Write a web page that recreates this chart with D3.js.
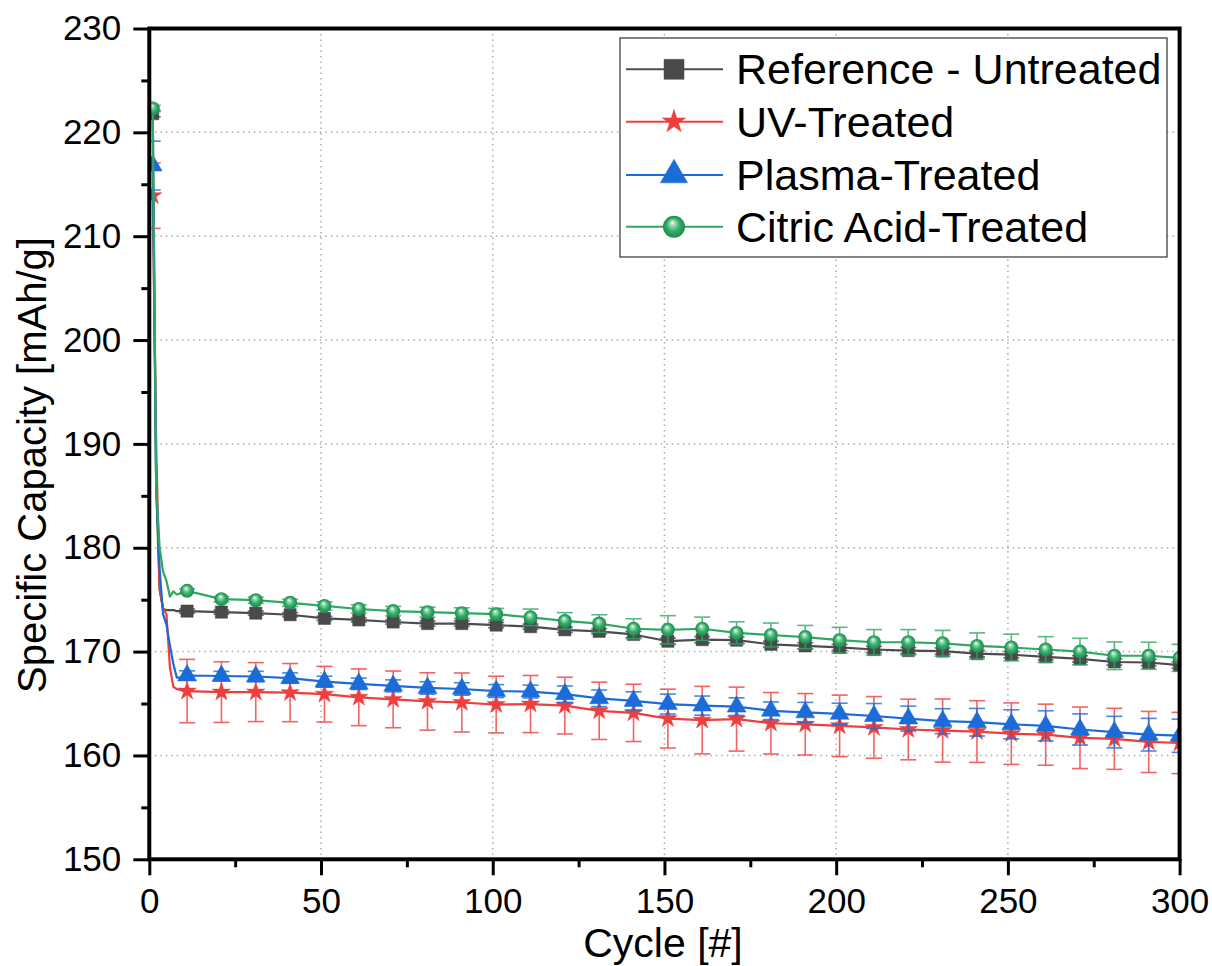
<!DOCTYPE html>
<html>
<head>
<meta charset="utf-8">
<style>
  body { margin: 0; background: #fff; }
  svg text { font-family: Arial, "Liberation Sans", sans-serif; fill: #000; }
</style>
</head>
<body>
<svg id="chart" width="1212" height="966"></svg>
<script src="https://cdnjs.cloudflare.com/ajax/libs/d3/7.8.5/d3.min.js"></script>
<script>
// cycles where markers / error bars sit
var markerCycles = [1, 11, 21, 31, 41, 51, 61, 71, 81, 91, 101, 111, 121, 131, 141, 151, 161, 171, 181, 191, 201, 211, 221, 231, 241, 251, 261, 271, 281, 291, 300];
// first cycles (line only, no markers)
var earlyCycles = [2, 3, 4, 5, 6, 7, 8, 9, 10];

var seriesNames = ["Reference - Untreated", "UV-Treated", "Plasma-Treated", "Citric Acid-Treated"];

var refValues = [221.8, 173.9, 173.8, 173.7, 173.55, 173.2, 173.05, 172.85, 172.7, 172.7, 172.55, 172.4, 172.1, 171.95, 171.65, 171.0, 171.15, 171.1, 170.7, 170.55, 170.4, 170.2, 170.1, 170.05, 169.8, 169.7, 169.5, 169.3, 169.0, 168.95, 168.7];
var uvValues = [213.9, 166.2, 166.1, 166.1, 166.05, 165.9, 165.6, 165.4, 165.2, 165.1, 164.9, 164.95, 164.8, 164.3, 164.1, 163.55, 163.4, 163.5, 163.1, 163.0, 162.85, 162.7, 162.5, 162.4, 162.3, 162.1, 162.0, 161.7, 161.6, 161.3, 161.2];
var plasmaValues = [216.8, 167.7, 167.65, 167.6, 167.45, 167.1, 166.9, 166.7, 166.5, 166.4, 166.2, 166.15, 165.9, 165.5, 165.25, 164.95, 164.8, 164.7, 164.3, 164.15, 164.0, 163.8, 163.55, 163.3, 163.2, 163.0, 162.85, 162.5, 162.25, 162.0, 161.9];
var citricValues = [222.3, 175.85, 175.05, 174.95, 174.7, 174.4, 174.1, 173.9, 173.8, 173.7, 173.6, 173.3, 172.95, 172.7, 172.2, 172.1, 172.2, 171.8, 171.6, 171.4, 171.1, 170.9, 170.9, 170.8, 170.55, 170.4, 170.2, 170.0, 169.6, 169.6, 169.4];

var refEarly = [186, 176, 174.1, 174.0, 174.0, 174.0, 173.9, 173.9, 173.9];
var uvEarly = [190, 176, 174.2, 173.6, 168.5, 166.6, 166.4, 166.3, 166.2];
var plasmaEarly = [186, 178, 173.6, 172.6, 170.6, 168.8, 167.5, 167.5, 167.6];
var citricEarly = [186, 180, 177.7, 176.8, 175.3, 175.8, 175.5, 175.6, 175.8];

// error bar half widths at the marker cycles
var refErr = [0.3, 0.2, 0.2, 0.2, 0.2, 0.2, 0.2, 0.2, 0.25, 0.25, 0.25, 0.25, 0.25, 0.25, 0.3, 0.3, 0.3, 0.3, 0.3, 0.3, 0.3, 0.3, 0.3, 0.3, 0.3, 0.3, 0.3, 0.3, 0.3, 0.3, 0.3];
var uvErr = [3.15, 3.05, 2.92, 2.84, 2.8, 2.68, 2.73, 2.73, 2.76, 2.84, 2.73, 2.75, 2.73, 2.76, 2.76, 2.83, 3.25, 3.08, 2.96, 2.96, 2.96, 2.97, 2.92, 3.04, 2.97, 2.96, 2.94, 2.96, 2.94, 2.94, 2.95];
var plasmaErr = [2.35, 0.45, 0.45, 0.5, 0.5, 0.53, 0.55, 0.58, 0.6, 0.6, 0.62, 0.62, 0.79, 0.8, 0.88, 0.96, 0.92, 0.85, 0.85, 0.96, 1.03, 1.2, 1.2, 1.2, 1.33, 1.4, 1.45, 1.5, 1.52, 1.57, 1.6];
var citricErr = [0.3, 0.2, 0.25, 0.3, 0.35, 0.39, 0.4, 0.45, 0.48, 0.52, 0.56, 0.8, 0.8, 0.85, 0.96, 1.36, 1.12, 1.07, 1.15, 1.12, 1.24, 1.22, 1.22, 1.24, 1.25, 1.28, 1.24, 1.28, 1.33, 1.3, 1.3];

var xTicks = [0, 50, 100, 150, 200, 250, 300];
var yTicks = [150, 160, 170, 180, 190, 200, 210, 220, 230];

var pLeft = 149.3, pRight = 1179.6, pTop = 28.5, pBottom = 859.3;
var svg = d3.select("#chart");

var x = d3.scaleLinear().domain([0, 300]).range([pLeft, pRight]);
var y = d3.scaleLinear().domain([150, 230]).range([pBottom, pTop]);

var defs = svg.append("defs");
defs.append("clipPath").attr("id", "plotClip")
    .append("rect").attr("x", pLeft).attr("y", pTop).attr("width", pRight - pLeft).attr("height", pBottom - pTop);
var grad = defs.append("radialGradient").attr("id", "sphere")
    .attr("cx", 0.5).attr("cy", 0.5).attr("r", 0.5).attr("fx", 0.42).attr("fy", 0.3);
grad.append("stop").attr("offset", "0").attr("stop-color", "#ffffff");
grad.append("stop").attr("offset", "0.22").attr("stop-color", "#9fdcb6");
grad.append("stop").attr("offset", "0.6").attr("stop-color", "#33ad68");
grad.append("stop").attr("offset", "1").attr("stop-color", "#1f8a4e");

// grid
var grid = svg.append("g").attr("stroke", "#aaaaaa").attr("stroke-width", 1.5).attr("stroke-dasharray", "1.5 4");
grid.selectAll(".gx").data(xTicks.slice(1, -1)).enter().append("line")
    .attr("x1", d => x(d)).attr("x2", d => x(d)).attr("y1", pTop).attr("y2", pBottom);
grid.selectAll(".gy").data(yTicks.slice(1, -1)).enter().append("line")
    .attr("y1", d => y(d)).attr("y2", d => y(d)).attr("x1", pLeft).attr("x2", pRight);

var series = [
    { name: seriesNames[0], values: refValues, early: refEarly, err: refErr, color: "#4d4d4d", fill: "#4a4a4a", shape: "square" },
    { name: seriesNames[1], values: uvValues, early: uvEarly, err: uvErr, color: "#ef3e3e", fill: "#ef3e3e", shape: "star" },
    { name: seriesNames[2], values: plasmaValues, early: plasmaEarly, err: plasmaErr, color: "#1b6bd9", fill: "#1b6bd9", shape: "triangle" },
    { name: seriesNames[3], values: citricValues, early: citricEarly, err: citricErr, color: "#2fa863", fill: "url(#sphere)", shape: "sphere" }
];

function drawMarker(g, s, big) {
    if (s.shape === "sphere") {
        g.append("circle").attr("r", big ? 11 : 7).attr("fill", s.fill);
        return;
    }
    var sym = { square: d3.symbolSquare, star: d3.symbolStar, triangle: d3.symbolTriangle }[s.shape];
    var size = { square: big ? 400 : 150, star: big ? 170 : 105, triangle: big ? 320 : 155 }[s.shape];
    g.append("path").attr("d", d3.symbol().type(sym).size(size)()).attr("fill", s.fill)
        .attr("stroke", s.fill).attr("stroke-width", 0.5);
}

var plot = svg.append("g").attr("clip-path", "url(#plotClip)");
var line = d3.line().x(d => x(d[0])).y(d => y(d[1]));

series.forEach(function (s) {
    var pts = [[markerCycles[0], s.values[0]]];
    earlyCycles.forEach((c, i) => pts.push([c, s.early[i]]));
    markerCycles.slice(1).forEach((c, i) => pts.push([c, s.values[i + 1]]));

    var g = plot.append("g");
    g.append("path").datum(pts).attr("d", line).attr("fill", "none")
        .attr("stroke", s.color).attr("stroke-width", 2.2).attr("stroke-linejoin", "round");

    var eb = g.append("g").attr("stroke", s.color).attr("stroke-width", 1.6).attr("opacity", 0.8);
    markerCycles.forEach(function (c, i) {
        var v = s.values[i], e = s.err[i], cx = x(c);
        eb.append("line").attr("x1", cx).attr("x2", cx).attr("y1", y(v - e)).attr("y2", y(v + e));
        eb.append("line").attr("x1", cx - 8).attr("x2", cx + 8).attr("y1", y(v - e)).attr("y2", y(v - e));
        eb.append("line").attr("x1", cx - 8).attr("x2", cx + 8).attr("y1", y(v + e)).attr("y2", y(v + e));
    });

    markerCycles.forEach(function (c, i) {
        var m = g.append("g").attr("transform", "translate(" + x(c) + "," + y(s.values[i]) + ")");
        drawMarker(m, s, false);
    });
});

// axes
function styleAxis(g) {
    g.select(".domain").remove();
    g.selectAll(".tick line").attr("stroke", "#000").attr("stroke-width", 3);
    g.selectAll(".tick text").attr("font-size", 35).attr("fill", "#000");
}
svg.append("g").attr("transform", "translate(" + pLeft + ",0)")
    .call(d3.axisLeft(y).tickValues(d3.range(155, 230, 10)).tickSize(8).tickFormat(""))
    .call(styleAxis);
svg.append("g").attr("transform", "translate(" + pLeft + ",0)")
    .call(d3.axisLeft(y).tickValues(yTicks).tickSize(16).tickPadding(12))
    .call(styleAxis);
svg.append("g").attr("transform", "translate(0," + pBottom + ")")
    .call(d3.axisBottom(x).tickValues(d3.range(25, 300, 50)).tickSize(8).tickFormat(""))
    .call(styleAxis);
svg.append("g").attr("transform", "translate(0," + pBottom + ")")
    .call(d3.axisBottom(x).tickValues(xTicks).tickSize(16).tickPadding(13))
    .call(styleAxis);

svg.append("rect").attr("x", pLeft).attr("y", pTop).attr("width", pRight - pLeft).attr("height", pBottom - pTop)
    .attr("fill", "none").attr("stroke", "#000").attr("stroke-width", 4);

// titles
svg.append("text").attr("x", 663).attr("y", 957).attr("text-anchor", "middle").attr("font-size", 41).text("Cycle [#]");
svg.append("text").attr("transform", "translate(46,465) rotate(-90)").attr("text-anchor", "middle")
    .attr("font-size", 40).text("Specific Capacity [mAh/g]");

// legend
var leg = svg.append("g");
leg.append("rect").attr("x", 620).attr("y", 38).attr("width", 547).attr("height", 219)
    .attr("fill", "#fff").attr("stroke", "#333").attr("stroke-width", 1.2);
var rowY = [69.3, 121.7, 175, 226.7];
series.forEach(function (s, i) {
    var r = leg.append("g").attr("transform", "translate(0," + rowY[i] + ")");
    r.append("line").attr("x1", 626).attr("x2", 723).attr("stroke", s.color).attr("stroke-width", 2);
    drawMarker(r.append("g").attr("transform", "translate(674,0)"), s, true);
    r.append("text").attr("x", 736).attr("y", 15).attr("font-size", 43).text(s.name);
});
</script>
</body>
</html>
